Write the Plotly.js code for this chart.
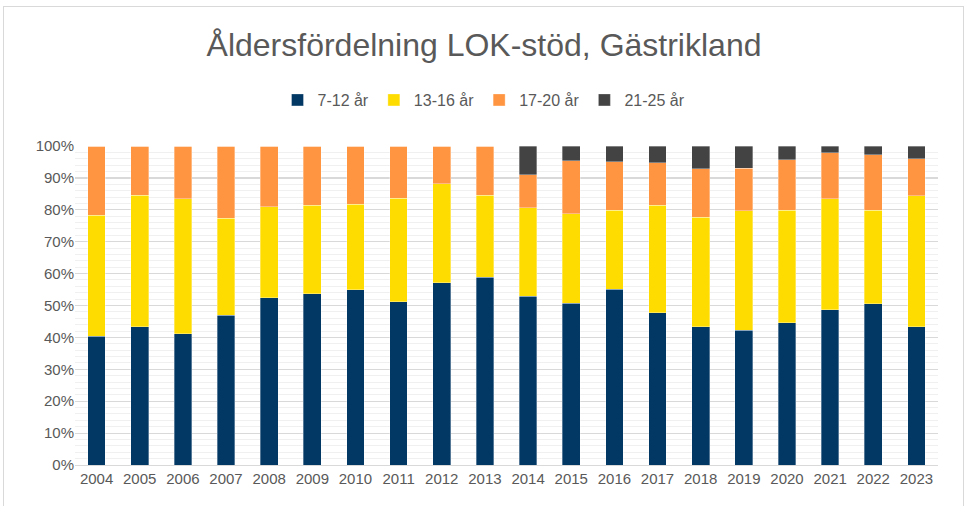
<!DOCTYPE html>
<html>
<head>
<meta charset="utf-8">
<script src="https://cdn.plot.ly/plotly-3.0.1.min.js"></script>
<style>
  html, body { margin: 0; padding: 0; background: #ffffff; }
  #wrap { position: relative; width: 968px; height: 506px; overflow: hidden; }
  #chart { width: 968px; height: 506px; }
  #frame { position: absolute; left: 3px; top: 6px; width: 961px; height: 520px;
           border: 1.5px solid #d9d9d9; pointer-events: none; box-sizing: border-box; }
</style>
</head>
<body>
<div id="wrap">
  <div id="chart"></div>
  <div id="frame"></div>
</div>
<script>
const years = ["2004","2005","2006","2007","2008","2009","2010","2011","2012","2013",
               "2014","2015","2016","2017","2018","2019","2020","2021","2022","2023"];
const seriesNames = ["7-12 år", "13-16 år", "17-20 år", "21-25 år"];
const age7_12  = [40.4, 43.3, 41.1, 47.0, 52.5, 53.7, 54.9, 51.2, 57.1, 58.9, 52.9, 50.7, 55.1, 47.7, 43.4, 42.2, 44.6, 48.6, 50.6, 43.3];
const age13_16 = [37.9, 41.3, 42.3, 30.4, 28.4, 27.7, 26.9, 32.5, 31.1, 25.7, 27.8, 28.0, 24.8, 33.7, 34.3, 37.5, 35.3, 34.9, 29.2, 41.1];
const age17_20 = [21.7, 15.4, 16.6, 22.6, 19.1, 18.6, 18.2, 16.3, 11.8, 15.4, 10.3, 16.6, 15.2, 13.3, 15.2, 13.3, 15.8, 14.4, 17.5, 11.6];
const age21_25 = [0, 0, 0, 0, 0, 0, 0, 0, 0, 0, 9.0, 4.7, 4.9, 5.3, 7.1, 7.0, 4.3, 2.1, 2.7, 4.0];
const yTicks = [0, 10, 20, 30, 40, 50, 60, 70, 80, 90, 100];
const yTickLabels = ["0%","10%","20%","30%","40%","50%","60%","70%","80%","90%","100%"];

const colors = ["#023864", "#FFDC00", "#FF9540", "#434343"];
const data = [age7_12, age13_16, age17_20, age21_25].map((vals, i) => ({
  type: "bar",
  x: years,
  y: vals,
  name: seriesNames[i],
  marker: { color: colors[i], line: { color: "rgba(255,255,255,0.55)", width: 0.6 } },
  hoverinfo: "skip"
}));

const font = "Liberation Sans, Arial, sans-serif";
const layout = {
  width: 968, height: 506,
  barmode: "stack",
  bargap: 0.59,
  paper_bgcolor: "#ffffff",
  plot_bgcolor: "#ffffff",
  margin: { l: 75, r: 30, t: 146, b: 41 },
  font: { family: font, color: "#595959" },
  title: {
    text: "Åldersfördelning LOK-stöd, Gästrikland",
    font: { family: font, size: 32, color: "#595959" },
    x: 0.5, xref: "container", xanchor: "center",
    y: 1 - 45 / 506, yref: "container", yanchor: "middle"
  },
  showlegend: true,
  legend: {
    orientation: "h",
    xref: "container", x: 0.5, xanchor: "center",
    yref: "container", y: 1 - 100 / 506, yanchor: "middle",
    font: { family: font, size: 16, color: "#595959" },
    traceorder: "normal",
    itemwidth: 30
  },
  xaxis: {
    type: "category",
    tickfont: { family: font, size: 15, color: "#595959" },
    showgrid: false,
    showline: true, linecolor: "#d9d9d9", linewidth: 1.3,
    ticks: "", ticklen: 0
  },
  yaxis: {
    range: [0, 100],
    tickvals: yTicks,
    ticktext: yTickLabels,
    tickfont: { family: font, size: 15, color: "#595959" },
    showgrid: true, gridcolor: "#d9d9d9", gridwidth: 1.2,
    zeroline: false, showline: false, ticks: "",
    minor: { dtick: 2, showgrid: true, gridcolor: "#f0f0f0", gridwidth: 1 },
    fixedrange: true
  }
};

Plotly.newPlot("chart", data, layout, { displayModeBar: false, staticPlot: true });
</script>
</body>
</html>
